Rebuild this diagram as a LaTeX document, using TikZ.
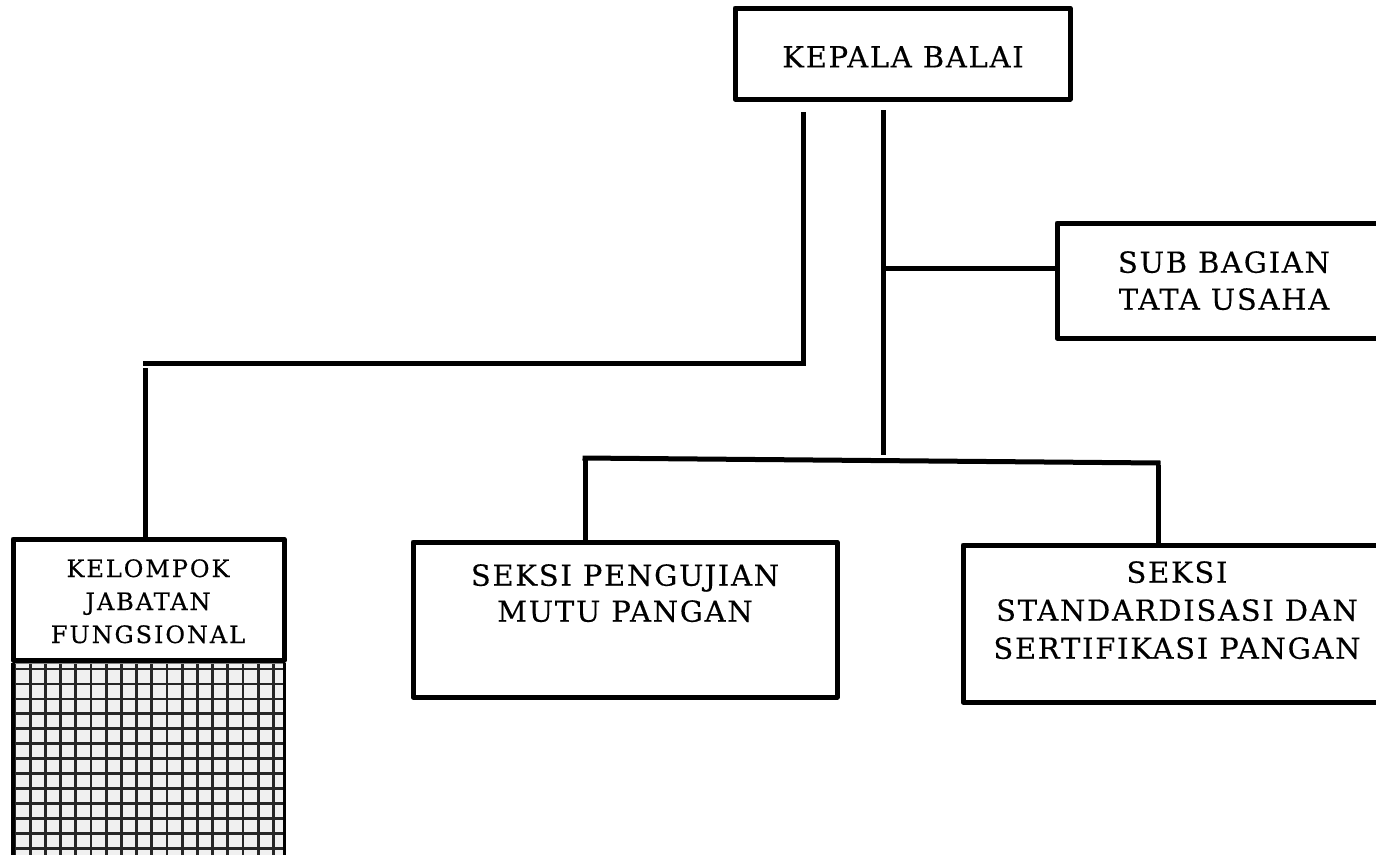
\documentclass[tikz,border=0pt]{standalone}
\usepackage{fontspec}
\newfontfamily\orgfont[LetterSpace=6,FakeBold=0.3]{DejaVu Serif}
\newfontfamily\kelfont[LetterSpace=8,FakeBold=0.3]{DejaVu Serif}
\tikzset{
  box/.style={draw, line width=5pt, rectangle, inner sep=0pt, line join=round, fill=white},
  lbl/.style={align=center, inner sep=0pt, anchor=north},
  bigtxt/.style={font=\orgfont\fontsize{29}{#1}\selectfont},
  link/.style={line width=5pt, line cap=butt, line join=miter},
  gridline/.style={line width=2.8pt, black!85}
}
\begin{document}
\begin{tikzpicture}[x=1pt, y=-1pt]
\useasboundingbox (0,0) rectangle (1376,854);
\fill[white] (0,0) rectangle (1376,854);

% boxes
\node[box, minimum width=335, minimum height=91] (kb) at (902.5,53.5) {};
\node[box, minimum width=335, minimum height=115] (sub) at (1224.5,280.5) {};
\node[box, minimum width=424, minimum height=155] (pen) at (625,619.5) {};
\node[box, minimum width=428, minimum height=157] (std) at (1177,623.5) {};
\node[box, minimum width=271, minimum height=121] (kel) at (148.5,599.5) {};

% texts
\node[lbl, bigtxt=37] (tkb) at (903,46) {KEPALA BALAI};
\node[lbl, bigtxt=37] (tsub) at (1224,251) {SUB BAGIAN\\TATA USAHA};
\node[lbl, bigtxt=36] (tpen) at (625,564) {SEKSI PENGUJIAN\\MUTU PANGAN};
\node[lbl, bigtxt=38] (tstd) at (1177,561) {SEKSI\\STANDARDISASI DAN\\SERTIFIKASI PANGAN};
\node[lbl, font=\kelfont\fontsize{24}{33}\selectfont] (tkel) at (148,559) {KELOMPOK\\JABATAN\\FUNGSIONAL};

% grid area below the functional group box
\begin{scope}
  \clip (0,0) rectangle (1376,854);
  \fill[black!6] (13,663) rectangle (284,870);
  \foreach \i in {0,...,17} {
    \draw[gridline] ({15+15.2*\i},663) -- ({15+15.2*\i},870);
  }
  \foreach \j in {0,...,13} {
    \draw[gridline] (13,{669+14.95*\j}) -- (284,{669+14.95*\j});
  }
  \draw[line width=1pt, black!50] (13,663) -- (284,663);
  \draw[line width=4pt] (13,663) -- (13,870);
  \draw[line width=3pt] (284,663) -- (284,870);
\end{scope}

% connectors
\coordinate (kL) at (803,112);
\coordinate (jL) at (803,363);
\coordinate (hL) at (143,363);
\coordinate (q1) at (145,368);
\coordinate (kC) at (883,110);
\coordinate (kB) at (883,455);
\coordinate (mS) at (883,268);
\coordinate (p1) at (585,458);
\coordinate (p2) at (1158,463);

\draw[link] (kL) -- (jL) -- (hL);
\draw[link] (q1) -- (q1 |- kel.north);
\draw[link] (kC) -- (kB);
\draw[link] (mS) -- (mS -| sub.west);
\draw[link] ([xshift=-2.5pt]p1) -- ([xshift=2.5pt]p2);
\draw[link] ([yshift=-2pt]p1) -- (p1 |- pen.north);
\draw[link] ([yshift=-2pt]p2) -- (p2 |- std.north);
\end{tikzpicture}
\end{document}
